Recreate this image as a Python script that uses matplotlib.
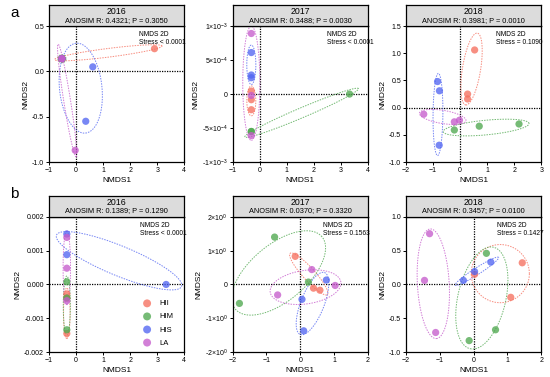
import numpy as np
import matplotlib
matplotlib.use("Agg")
import matplotlib.pyplot as plt

plt.rcParams["font.family"] = ["Liberation Sans", "DejaVu Sans"]
plt.rcParams["mathtext.default"] = "regular"

groups = ["HII", "HIM", "HIS", "LA"]
colors = {"HII": "#f6705f", "HIM": "#4fa84f", "HIS": "#5266f2", "LA": "#c65ccc"}

# point coordinates per panel: group -> (x, y)
a2016 = {
    "HII": ([-0.52, 2.90, -0.52], [0.14, 0.25, 0.14]),
    "HIM": ([-0.52, -0.52, -0.52], [0.14, 0.14, 0.14]),
    "HIS": ([-0.52, 0.62, 0.36], [0.14, 0.05, -0.55]),
    "LA": ([-0.52, -0.52, -0.03], [0.14, 0.14, -0.87]),
}
a2017 = {
    "HII": ([-0.31, -0.31, -0.31], [0.044e-3, -0.083e-3, -0.23e-3]),
    "HIM": ([-0.31, -0.31, 3.32], [-0.55e-3, -0.55e-3, 0.0]),
    "HIS": ([-0.31, -0.31, -0.31], [0.61e-3, 0.28e-3, 0.24e-3]),
    "LA": ([-0.31, -0.31, -0.31], [0.89e-3, -0.02e-3, -0.61e-3]),
}
a2018 = {
    "HII": ([0.54, 0.28, 0.28], [1.06, 0.25, 0.16]),
    "HIM": ([-0.21, 0.71, 2.18], [-0.41, -0.34, -0.30]),
    "HIS": ([-0.83, -0.76, -0.77], [0.48, 0.31, -0.69]),
    "LA": ([-1.34, -0.21, -0.02], [-0.12, -0.26, -0.23]),
}
b2016 = {
    "HII": ([-0.34, -0.34, -0.34], [-0.28e-3, -0.40e-3, -1.45e-3]),
    "HIM": ([-0.34, -0.34, -0.34], [0.08e-3, -0.40e-3, -1.34e-3]),
    "HIS": ([-0.34, -0.34, 3.33], [1.49e-3, 0.88e-3, 0.0]),
    "LA": ([-0.34, -0.34, -0.34], [1.39e-3, 0.48e-3, -0.48e-3]),
}
b2017 = {
    "HII": ([-0.15, 0.39, 0.58], [0.83, -0.11, -0.17]),
    "HIM": ([-0.76, -1.80, 0.24], [1.40, -0.56, 0.07]),
    "HIS": ([0.77, 0.05, 0.10], [0.13, -0.44, -1.37]),
    "LA": ([0.34, 1.03, -0.67], [0.44, -0.03, -0.31]),
}
b2018 = {
    "HII": ([0.03, 1.44, 1.10], [0.15, 0.32, -0.19]),
    "HIM": ([0.38, 0.65, -0.13], [0.46, -0.67, -0.83]),
    "HIS": ([-0.30, 0.03, 0.51], [0.06, 0.19, 0.33]),
    "LA": ([-1.30, -1.45, -1.12], [0.75, 0.06, -0.71]),
}

# ellipses: (x tip1, y tip1, x tip2, y tip2, minor/major ratio)
a2016_ell = {
    "HII": (-0.79, 0.13, 3.18, 0.28, 0.08),
    "HIM": (-0.67, 0.14, -0.37, 0.14, 1.0),
    "HIS": (0.0, 0.31, 0.35, -0.68, 0.47),
    "LA": (-0.66, 0.30, 0.0, -0.94, 0.06),
}
a2017_ell = {
    "HII": (-0.31, 0.12e-3, -0.31, -0.32e-3, 0.3),
    "HIM": (-0.55, -0.63e-3, 3.65, 0.08e-3, 0.08),
    "HIS": (-0.31, 0.72e-3, -0.31, 0.14e-3, 0.23),
    "LA": (-0.31, 1.0e-3, -0.31, -0.68e-3, 0.15),
}
a2018_ell = {
    "HII": (0.64, 1.37, 0.21, 0.05, 0.25),
    "HIM": (-0.62, -0.44, 2.55, -0.29, 0.17),
    "HIS": (-0.80, 0.63, -0.83, -0.88, 0.12),
    "LA": (-1.50, -0.10, 0.22, -0.24, 0.28),
}
b2016_ell = {
    "HII": (-0.34, -0.1e-3, -0.34, -1.6e-3, 0.13),
    "HIM": (-0.34, 0.25e-3, -0.34, -1.5e-3, 0.12),
    "HIS": (-0.72, 1.46e-3, 3.9, -0.06e-3, 0.22),
    "LA": (-0.34, 1.6e-3, -0.34, -0.6e-3, 0.1),
}
b2017_ell = {
    "HII": (-0.30, 0.92, 0.80, -0.30, 0.22),
    "HIM": (-1.92, -0.73, 0.64, 1.41, 0.5),
    "HIS": (0.72, 0.35, 0.0, -1.48, 0.35),
    "LA": (-0.89, -0.23, 1.20, 0.07, 0.47),
}
b2018_ell = {
    "HII": (-0.07, 0.16, 1.65, 0.16, 1.0),
    "HIM": (0.59, 0.55, -0.10, -0.95, 0.46),
    "HIS": (-0.54, -0.01, 0.74, 0.40, 0.13),
    "LA": (-1.28, 0.82, -1.10, -0.80, 0.29),
}

years = ["2016", "2017", "2018"]
anosim_a = ["ANOSIM R: 0.4321; P = 0.3050", "ANOSIM R: 0.3488; P = 0.0030", "ANOSIM R: 0.3981; P = 0.0010"]
anosim_b = ["ANOSIM R: 0.1389; P = 0.1290", "ANOSIM R: 0.0370; P = 0.3320", "ANOSIM R: 0.3457; P = 0.0100"]
stress_a = ["Stress < 0.0001", "Stress < 0.0001", "Stress = 0.1090"]
stress_b = ["Stress < 0.0001", "Stress = 0.1563", "Stress = 0.1427"]

xlims = [(-1, 4), (-1, 4), (-2, 3), (-1, 4), (-2, 2), (-2, 2)]
ylims = [(-1, 0.5), (-1e-3, 1e-3), (-1, 1.5), (-0.002, 0.002), (-2, 2), (-1, 1)]
yticks = [
    [-1.0, -0.5, 0.0, 0.5],
    [-1e-3, -5e-4, 0, 5e-4, 1e-3],
    [-1.0, -0.5, 0.0, 0.5, 1.0, 1.5],
    [-0.002, -0.001, 0.0, 0.001, 0.002],
    [-2, -1, 0, 1, 2],
    [-1.0, -0.5, 0.0, 0.5, 1.0],
]
ytick_labels = [
    ["-1.0", "-0.5", "0.0", "0.5"],
    [r"-1×10$^{-3}$", r"-5×10$^{-4}$", "0", r"5×10$^{-4}$", r"1×10$^{-3}$"],
    ["-1.0", "-0.5", "0.0", "0.5", "1.0", "1.5"],
    ["-0.002", "-0.001", "0.000", "0.001", "0.002"],
    [r"-2×10$^{0}$", r"-1×10$^{0}$", "0", r"1×10$^{0}$", r"2×10$^{0}$"],
    ["-1.0", "-0.5", "0.0", "0.5", "1.0"],
]

fig = plt.figure(figsize=(5.5, 3.77), dpi=100)

lefts = [0.089, 0.423, 0.738]
width = 0.246
rows = [(0.570, 0.361), (0.066, 0.359)]  # bottom, height
head_h = 0.055
stress_x = [0.665, 0.70, 0.668, 0.67, 0.67, 0.67]


def draw_ellipse(ax, spec, color):
    x1, y1, x2, y2, ratio = spec
    p1, p2 = ax.transData.transform([(x1, y1), (x2, y2)])
    c = (p1 + p2) / 2
    u = (p2 - p1) / 2
    v = np.array([-u[1], u[0]]) * ratio
    t = np.linspace(0, 2 * np.pi, 200)
    pts = c + np.outer(np.cos(t), u) + np.outer(np.sin(t), v)
    d = ax.transData.inverted().transform(pts)
    ax.plot(d[:, 0], d[:, 1], color=color, lw=0.7, ls=(0, (1.5, 1.2)), alpha=0.8, zorder=2)


panels = [a2016, a2017, a2018, b2016, b2017, b2018]
ells = [a2016_ell, a2017_ell, a2018_ell, b2016_ell, b2017_ell, b2018_ell]
anosim = anosim_a + anosim_b
stress = stress_a + stress_b

for i in range(6):
    r, c = divmod(i, 3)
    bottom, height = rows[r]
    ax = fig.add_axes([lefts[c], bottom, width, height])
    ax.set_xlim(*xlims[i])
    ax.set_ylim(*ylims[i])
    ax.set_xticks(np.arange(xlims[i][0], xlims[i][1] + 1))
    ax.set_yticks(yticks[i])
    ax.set_yticklabels(ytick_labels[i])
    ax.tick_params(labelsize=5, length=2, width=0.7, pad=1.5)
    for s in ax.spines.values():
        s.set_linewidth(0.9)
    ax.axhline(0, color="black", lw=0.9, ls=(0, (1, 1)), zorder=1)
    ax.axvline(0, color="black", lw=0.9, ls=(0, (1, 1)), zorder=1)
    ax.set_xlabel("NMDS1", fontsize=6, labelpad=2)
    ax.set_ylabel("NMDS2", fontsize=6, labelpad=2)

    for g in groups:
        draw_ellipse(ax, ells[i][g], colors[g])
    for g in groups:
        xs, ys = panels[i][g]
        ax.scatter(xs, ys, s=27, color=colors[g], alpha=0.78, edgecolors="none", zorder=3, label=g)

    ax.text(stress_x[i], 0.965, "NMDS 2D\n" + stress[i], transform=ax.transAxes, fontsize=4.8,
            va="top", ha="left", linespacing=1.3)

    # gray header box with year and ANOSIM result
    hax = fig.add_axes([lefts[c], bottom + height, width, head_h])
    hax.set_xticks([])
    hax.set_yticks([])
    hax.set_facecolor("#dcdcdc")
    for s in hax.spines.values():
        s.set_linewidth(0.9)
    hax.text(0.5, 0.70, years[c], ha="center", va="center", fontsize=6.3)
    hax.text(0.5, 0.28, anosim[i], ha="center", va="center", fontsize=5.3)

    if i == 3:
        ax.legend(loc="lower right", frameon=False, fontsize=5.5, handletextpad=0.6,
                  labelspacing=0.75, markerscale=1.1, bbox_to_anchor=(0.97, -0.01))

fig.text(0.018, 0.965, "a", fontsize=11, va="center")
fig.text(0.018, 0.485, "b", fontsize=11, va="center")

fig.savefig("out.png", dpi=100)
